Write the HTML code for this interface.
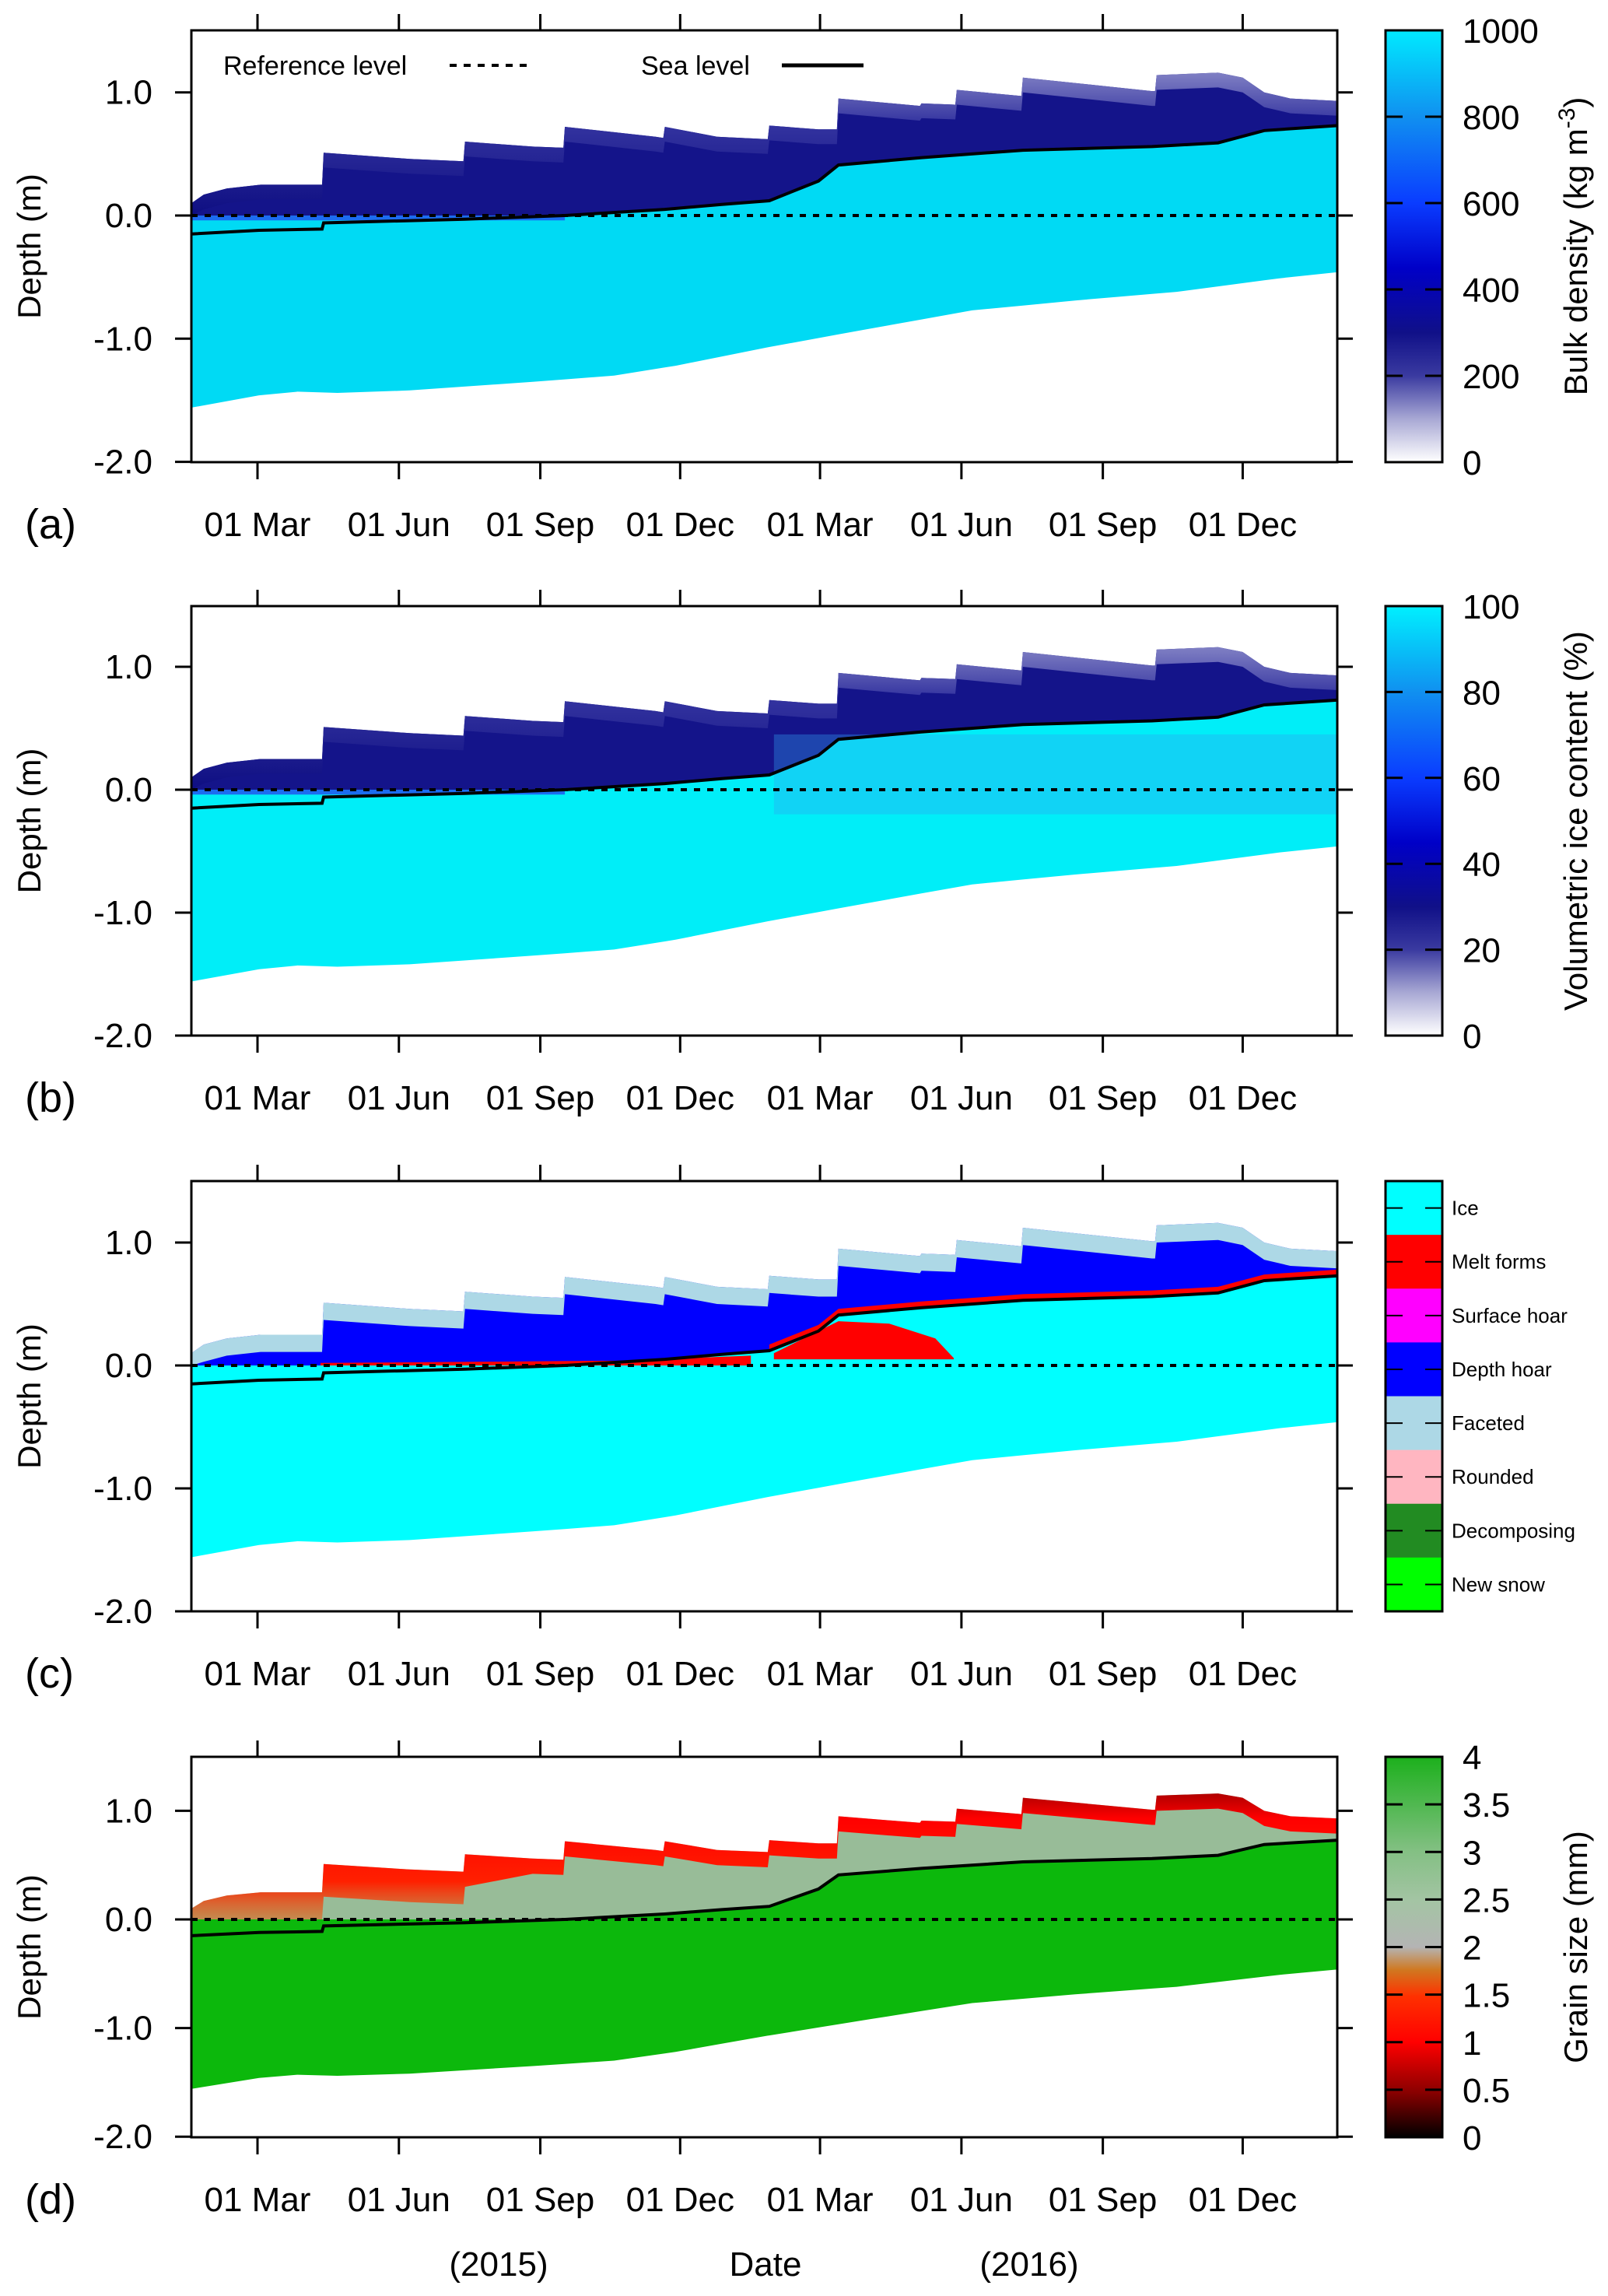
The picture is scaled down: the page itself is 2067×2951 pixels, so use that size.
<!DOCTYPE html>
<html><head><meta charset="utf-8">
<style>
html,body{margin:0;padding:0;background:#fff;}
svg{display:block;font-family:"Liberation Sans",sans-serif;}
</style></head>
<body>
<svg id="fig" width="2067" height="2951" viewBox="0 0 2067 2951" xmlns="http://www.w3.org/2000/svg">
<defs>
<linearGradient id="gA" x1="0" y1="1" x2="0" y2="0">
<stop offset="0" stop-color="#ffffff"/><stop offset="0.1" stop-color="#a8a8d4"/><stop offset="0.2" stop-color="#3a3aa0"/><stop offset="0.3" stop-color="#101088"/><stop offset="0.45" stop-color="#0000c8"/><stop offset="0.6" stop-color="#0a3cff"/><stop offset="0.8" stop-color="#1090f0"/><stop offset="1" stop-color="#00eaff"/>
</linearGradient>
<linearGradient id="gB" x1="0" y1="1" x2="0" y2="0">
<stop offset="0" stop-color="#ffffff"/><stop offset="0.1" stop-color="#a8a8d4"/><stop offset="0.2" stop-color="#3a3aa0"/><stop offset="0.3" stop-color="#101088"/><stop offset="0.45" stop-color="#0000c8"/><stop offset="0.6" stop-color="#0a3cff"/><stop offset="0.8" stop-color="#1090f0"/><stop offset="1" stop-color="#00f0ff"/>
</linearGradient>
<linearGradient id="gD" x1="0" y1="1" x2="0" y2="0">
<stop offset="0" stop-color="#000000"/><stop offset="0.12" stop-color="#8b0000"/><stop offset="0.25" stop-color="#ff0000"/><stop offset="0.37" stop-color="#ff3000"/><stop offset="0.44" stop-color="#d07820"/><stop offset="0.5" stop-color="#b4b4b4"/><stop offset="0.62" stop-color="#a4c4a4"/><stop offset="0.75" stop-color="#84c084"/><stop offset="1" stop-color="#1cb01c"/>
</linearGradient>
<linearGradient id="snowA" x1="0" y1="0" x2="0" y2="1">
<stop offset="0" stop-color="#8080c4"/><stop offset="0.35" stop-color="#3434a0"/><stop offset="1" stop-color="#0e0e82"/>
</linearGradient>
<linearGradient id="redD" x1="0" y1="0" x2="0" y2="1">
<stop offset="0" stop-color="#b00000"/><stop offset="0.2" stop-color="#ff0000"/><stop offset="0.7" stop-color="#ff2000"/><stop offset="1" stop-color="#e06a20" stop-opacity="0.6"/>
</linearGradient>
</defs>
<g id="layer"></g>
</svg>
<script>
// ---- data (day of year, Jan 1 2015 = 0) ----
const tickDays = [59,151,243,334,425,517,609,700];
const tickLabels = ["01 Mar","01 Jun","01 Sep","01 Dec","01 Mar","01 Jun","01 Sep","01 Dec"];
const depthTicks = [1.0,0.0,-1.0,-2.0];
const depthTickLabels = ["1.0","0.0","-1.0","-2.0"];
const snowDays = [16,24,39,61,84,101,102,158,193,194,238,258,259,318,323,324,358,391,392,424,436,437,490,491,513,514,556,557,641,643,644,684,700,714,731,762];
const snowTop = [0.10,0.17,0.22,0.25,0.25,0.25,0.51,0.46,0.44,0.60,0.56,0.55,0.72,0.64,0.63,0.72,0.64,0.62,0.73,0.70,0.70,0.95,0.89,0.91,0.90,1.02,0.97,1.12,1.01,1.01,1.14,1.16,1.12,1.00,0.95,0.93];
const seaDays = [16,60,101,102,194,259,324,361,392,424,437,491,557,641,684,714,762];
const seaLevel = [-0.15,-0.12,-0.11,-0.06,-0.03,0.0,0.05,0.09,0.12,0.28,0.41,0.47,0.53,0.56,0.59,0.69,0.73];
const iceTopDays = [16,259,324,361,392,424,437,491,557,641,684,714,762];
const iceTop = [0.0,0.0,0.05,0.09,0.12,0.28,0.41,0.47,0.53,0.56,0.59,0.69,0.73];
const botDays = [16,60,85,111,158,238,291,331,391,457,524,591,657,724,762];
const iceBottom = [-1.56,-1.46,-1.43,-1.44,-1.42,-1.35,-1.30,-1.22,-1.07,-0.92,-0.77,-0.69,-0.62,-0.51,-0.46];
const meltDays = [395,424,437,470,500,512];
const meltTop = [0.10,0.28,0.36,0.34,0.22,0.06];
const cbA = [0,200,400,600,800,1000];
const cbB = [0,20,40,60,80,100];
const cbD = [0,0.5,1,1.5,2,2.5,3,3.5,4];
const grainClasses = ["Ice","Melt forms","Surface hoar","Depth hoar","Faceted","Rounded","Decomposing","New snow"];
const grainColors = ["#00ffff","#ff0000","#ff00ff","#0000ff","#add8e6","#ffb6c1","#228b22","#00ff00"];

const NS = "http://www.w3.org/2000/svg";
const root = document.getElementById("layer");
const X0 = 246, X1 = 1719;
function xs(d){ return 331 + (d-59)*1.9757; }
function interp(ds, vs, d){
  if (d <= ds[0]) return vs[0];
  for (let i=1;i<ds.length;i++){ if (d <= ds[i]) { const t=(d-ds[i-1])/(ds[i]-ds[i-1]||1); return vs[i-1]+t*(vs[i]-vs[i-1]); } }
  return vs[vs.length-1];
}
function mk(tag, attrs, parent){
  const e = document.createElementNS(NS, tag);
  for (const k in attrs) e.setAttribute(k, attrs[k]);
  (parent||root).appendChild(e); return e;
}
function bandPoly(g, ys, topDs, topVs, botFn, fill, name){
  let pts = topDs.map((d,i)=> xs(d).toFixed(1)+","+ys(topVs[i]).toFixed(1));
  for (let i=topDs.length-1;i>=0;i--){ pts.push(xs(topDs[i]).toFixed(1)+","+ys(botFn(topDs[i],topVs[i])).toFixed(1)); }
  const p = mk("polygon",{points:pts.join(" "),fill:fill},g);
  
  
  return p;
}
const panels = [
  {id:"a", top:39, y0:277, ppm:158.3, bottom:594},
  {id:"b", top:779, y0:1015, ppm:158, bottom:1331},
  {id:"c", top:1518, y0:1755, ppm:158, bottom:2071},
  {id:"d", top:2258, y0:2467, ppm:139.6, bottom:2747}
];
panels.forEach(P=>{
  const ys = v => P.y0 - v*P.ppm;
  const g = mk("g",{});
  
  
  const allIce = iceTopDays.concat(botDays).sort((a,b)=>a-b);
  const iceDaysU = allIce.filter((d,i)=>allIce.indexOf(d)===i);
  const iceTopV = iceDaysU.map(d=>interp(iceTopDays,iceTop,d));
  const iceCol = {a:"#00daf4",b:"#00eef8",c:"#00ffff",d:"#0cb80c"}[P.id];
  bandPoly(g, ys, iceDaysU, iceTopV, (d)=>interp(botDays,iceBottom,d), iceCol, "ice-region");
  const snowCol = {a:"#14148a",b:"#14148a",c:"#0000ff",d:"#98bc98"}[P.id];
  bandPoly(g, ys, snowDays, snowTop, (d)=>interp(iceTopDays,iceTop,d), snowCol, "snow-region");
  if (P.id==="a"||P.id==="b"){
    bandPoly(g, ys, snowDays, snowTop, (d,v)=>Math.max(v-0.12, interp(iceTopDays,iceTop,d)), "url(#snowA)", "snow-surface-layer");
    bandPoly(g, ys, iceTopDays.slice(0,2), [0,0], (d)=>-0.04, "#1c6cf0", "basal-dense-layer");
    if (P.id==="b"){
      const p = mk("rect",{x:xs(395),y:ys(0.45),width:xs(762)-xs(395),height:ys(-0.2)-ys(0.45),fill:"#30a0f0",opacity:"0.35"},g);
      
      
    }
  }
  if (P.id==="c"){
    bandPoly(g, ys, snowDays, snowTop, (d,v)=>Math.max(v-0.14, interp(iceTopDays,iceTop,d)), "#add8e6", "faceted-layer");
    bandPoly(g, ys, iceTopDays.slice(4), iceTop.slice(4).map(v=>v+0.05), (d)=>interp(iceTopDays,iceTop,d)-0.01, "#ff0000", "melt-forms-layer");
    bandPoly(g, ys, meltDays, meltTop, ()=>0.05, "#ff0000", "melt-forms-patch");
    bandPoly(g, ys, [100,200,300,380], [0.02,0.03,0.04,0.08], ()=>0.0, "#ff0000", "basal-melt-forms");
  }
  if (P.id==="d"){
    bandPoly(g, ys, snowDays, snowTop, (d,v)=>Math.max(v-(d<200?0.3:0.14), interp(iceTopDays,iceTop,d)), "url(#redD)", "small-grain-layer");
  }
  const rl = mk("line",{x1:X0,x2:X1,y1:ys(0),y2:ys(0),stroke:"#000","stroke-width":4,"stroke-dasharray":"8,9"},g);
  
  
  const sl = mk("polyline",{points:seaDays.map((d,i)=>xs(d).toFixed(1)+","+ys(seaLevel[i]).toFixed(1)).join(" "),fill:"none",stroke:"#000","stroke-width":4},g);
  
  
  const fr = mk("rect",{x:X0,y:P.top,width:X1-X0,height:P.bottom-P.top,fill:"none",stroke:"#000","stroke-width":3},g);
  
  
  tickDays.forEach((d,i)=>{
    const x = xs(d);
    const t1 = mk("line",{x1:x,x2:x,y1:P.top-21,y2:P.top,stroke:"#000","stroke-width":3},g);
    
    
    const t2 = mk("line",{x1:x,x2:x,y1:P.bottom,y2:P.bottom+22,stroke:"#000","stroke-width":3},g);
    
    
    const tl = mk("text",{x:x,y:P.bottom+95,"font-size":44,"text-anchor":"middle",fill:"#000"},g);
    tl.textContent = tickLabels[i];
    
    
  });
  depthTicks.forEach((v,i)=>{
    const y = ys(v);
    const t = mk("line",{x1:225,x2:X0,y1:y,y2:y,stroke:"#000","stroke-width":3},g);
    
    
    const t2 = mk("line",{x1:X1,x2:X1+20,y1:y,y2:y,stroke:"#000","stroke-width":3},g);
    
    
    const tl = mk("text",{x:196,y:y+15,"font-size":44,"text-anchor":"end",fill:"#000"},g);
    tl.textContent = depthTickLabels[i];
    
    
  });
  const yl = mk("text",{x:0,y:0,"font-size":42,"text-anchor":"middle",fill:"#000",transform:"translate(52,"+((P.top+P.bottom)/2)+") rotate(-90)"},g);
  yl.textContent = "Depth (m)";
  
  
  const pl = mk("text",{x:32,y:P.bottom+98,"font-size":54,fill:"#000"},g);
  pl.textContent = "("+P.id+")";
  
  

  const cx0 = 1781, cw = 73;
  if (P.id==="c"){
    const h = (P.bottom-P.top)/grainClasses.length;
    grainClasses.forEach((nm,i)=>{
      const y = P.top + i*h;
      const r = mk("rect",{x:cx0,y:y,width:cw,height:h+0.5,fill:grainColors[i]},g);
      
      
      const d1 = mk("line",{x1:cx0,x2:cx0+22,y1:y+h/2,y2:y+h/2,stroke:"#000","stroke-width":2},g);
      
      
      const d2 = mk("line",{x1:cx0+cw-22,x2:cx0+cw,y1:y+h/2,y2:y+h/2,stroke:"#000","stroke-width":2},g);
      
      
      const t = mk("text",{x:1866,y:y+h/2+9,"font-size":26,fill:"#000"},g);
      t.textContent = nm;
      
      
    });
    const b = mk("rect",{x:cx0,y:P.top,width:cw,height:P.bottom-P.top,fill:"none",stroke:"#000","stroke-width":3},g);
    
    
  } else {
    const vals = {a:cbA,b:cbB,d:cbD}[P.id];
    const grad = {a:"url(#gA)",b:"url(#gB)",d:"url(#gD)"}[P.id];
    const r = mk("rect",{x:cx0,y:P.top,width:cw,height:P.bottom-P.top,fill:grad,stroke:"#000","stroke-width":3},g);
    
    
    const vmax = vals[vals.length-1];
    vals.forEach(v=>{
      const y = P.bottom - v/vmax*(P.bottom-P.top);
      if (v>0 && v<vmax){
        const d1 = mk("line",{x1:cx0,x2:cx0+22,y1:y,y2:y,stroke:"#000","stroke-width":3},g);
        
        
        const d2 = mk("line",{x1:cx0+cw-22,x2:cx0+cw,y1:y,y2:y,stroke:"#000","stroke-width":3},g);
        
        
      }
      const t = mk("text",{x:1880,y:y+16,"font-size":44,fill:"#000"},g);
      t.textContent = String(v);
      
      
    });
    const title = mk("text",{x:0,y:0,"font-size":42,"text-anchor":"middle",fill:"#000",transform:"translate(2040,"+((P.top+P.bottom)/2)+") rotate(-90)"},g);
    
    
    if (P.id==="a"){
      title.innerHTML = 'Bulk density (kg m<tspan dy="-16" font-size="30">-3</tspan><tspan dy="16">)</tspan>';
    } else if (P.id==="b"){
      title.textContent = "Volumetric ice content (%)";
    } else {
      title.textContent = "Grain size (mm)";
    }
  }
});
(function(){
  const t1 = mk("text",{x:287,y:96,"font-size":34,fill:"#000"});
  t1.textContent = "Reference level";
  
  
  const l1 = mk("line",{x1:578,x2:682,y1:84,y2:84,stroke:"#000","stroke-width":4,"stroke-dasharray":"9,9"});
  
  
  const t2 = mk("text",{x:824,y:96,"font-size":34,fill:"#000"});
  t2.textContent = "Sea level";
  
  
  const l2 = mk("line",{x1:1005,x2:1110,y1:84,y2:84,stroke:"#000","stroke-width":5});
  
  
  const y1 = mk("text",{x:641,y:2925,"font-size":44,"text-anchor":"middle",fill:"#000"});
  y1.textContent = "(2015)";
  
  
  const dl = mk("text",{x:984,y:2925,"font-size":44,"text-anchor":"middle",fill:"#000"});
  dl.textContent = "Date";
  
  
  const y2 = mk("text",{x:1323,y:2925,"font-size":44,"text-anchor":"middle",fill:"#000"});
  y2.textContent = "(2016)";
  
  
})();
</script>
</body></html>
